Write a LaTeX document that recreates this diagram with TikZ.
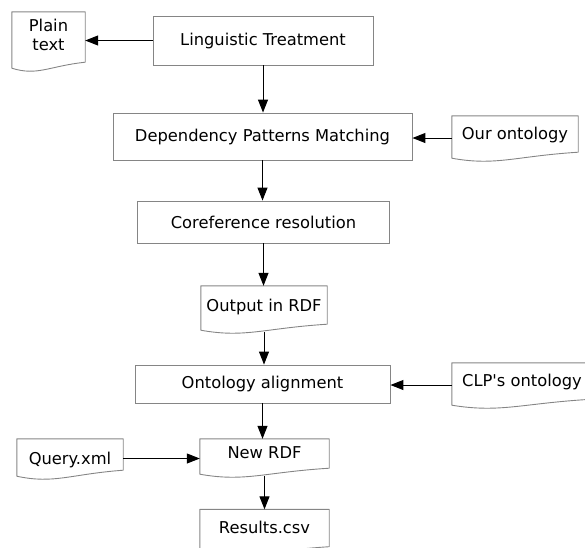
\documentclass[tikz,border=0pt]{standalone}
\usepackage{fontspec}
\setmainfont{DejaVu Sans}
\usetikzlibrary{arrows.meta,calc}
\colorlet{boxgray}{black!48}

\begin{document}
\begin{tikzpicture}[x=1pt,y=-1pt,
    font=\fontsize{16.3}{19}\selectfont,
    proc/.style={draw=boxgray, line width=0.9pt, inner sep=0pt},
    docu/.style={inner sep=0pt, text depth=9pt},
    docline/.style={draw=boxgray, line width=0.9pt, line join=round},
    flow/.style={-{Triangle[length=13pt,width=10pt]}, line width=1pt}]
  \useasboundingbox (0,0) rectangle (585,547);

  \node[docu, minimum width=73pt, minimum height=58pt, align=center, text depth=13pt] (plain) at (48.5,41) {Plain\\text};
  \node[proc, minimum width=220pt, minimum height=49pt] (lt) at (263,40.5) {Linguistic Treatment};
  \node[proc, minimum width=299pt, minimum height=47pt] (dpm) at (262.5,136.5) {Dependency Patterns Matching};
  \node[docu, minimum width=126pt, minimum height=44pt] (our) at (515,138) {Our ontology};
  \node[proc, minimum width=252pt, minimum height=42pt] (cr) at (263.5,222) {Coreference resolution};
  \node[docu, minimum width=126pt, minimum height=46pt, text depth=7pt] (output) at (264,309) {Output in RDF};
  \node[proc, minimum width=255pt, minimum height=38pt] (oa) at (262.5,384) {Ontology alignment};
  \node[docu, minimum width=140pt, minimum height=44pt] (clp) at (522,385) {CLP\textquotesingle s ontology};
  \node[docu, minimum width=106pt, minimum height=39pt, text depth=0pt] (query) at (70,458.5) {Query.xml};
  \node[docu, minimum width=129pt, minimum height=37pt] (newrdf) at (264.5,457.5) {New RDF};
  \node[docu, minimum width=129pt, minimum height=45pt] (results) at (264.5,532) {Results.csv};

  % document outlines with the wavy bottom
  \foreach \d in {plain,our,output,clp,query,newrdf,results}
    \draw[docline] ($(\d.south west)+(0,-2)$) -- (\d.north west) -- (\d.north east)
      -- ($(\d.south east)+(0,-8)$)
      .. controls ($(\d.south east)!0.5!(\d.south west)+(0,-4)$)
      and ($(\d.south west)!0.35!(\d.south east)+(0,6)$) .. ($(\d.south west)+(0,-2)$) -- cycle;

  \draw[flow] (lt.west) -- (lt.west -| plain.east);
  \draw[flow] (lt.south) -- (lt.south |- dpm.north);
  \draw[flow] (our.west) -- (our.west -| dpm.east);
  \draw[flow] (dpm.south) -- (dpm.south |- cr.north);
  \draw[flow] (cr.south) -- (cr.south |- output.north);
  \draw[flow] (output.south) -- (output.south |- oa.north);
  \draw[flow] (clp.west) -- (clp.west -| oa.east);
  \draw[flow] (oa.south) -- (oa.south |- newrdf.north);
  \draw[flow] (query.east) -- (query.east -| newrdf.west);
  \draw[flow] (newrdf.south) -- (newrdf.south |- results.north);
\end{tikzpicture}
\end{document}
